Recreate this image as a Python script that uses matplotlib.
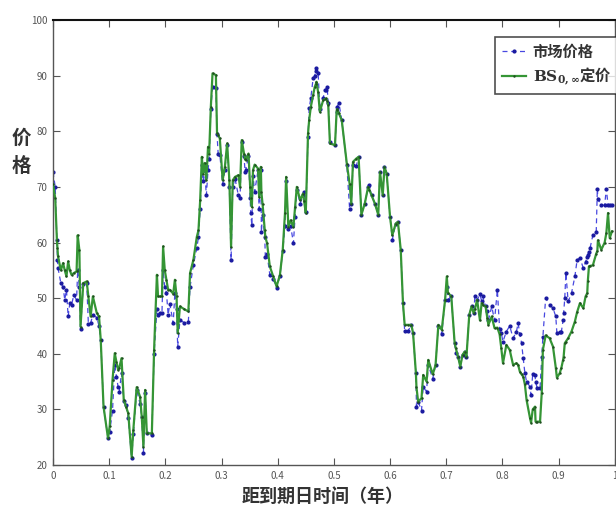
import matplotlib
matplotlib.use("Agg")
import matplotlib.pyplot as plt
from matplotlib.ticker import FormatStrFormatter

plt.rcParams['font.family'] = ['Noto Sans CJK SC', 'DejaVu Sans']
plt.rcParams['mathtext.fontset'] = 'dejavuserif'

# time to maturity (years)
t = [0.000, 0.004, 0.007, 0.008, 0.009, 0.014, 0.018, 0.021, 0.024, 0.027,
     0.030, 0.033, 0.037, 0.042, 0.044, 0.047, 0.049, 0.054, 0.060, 0.063,
     0.067, 0.071, 0.078, 0.082, 0.085, 0.090, 0.098, 0.101, 0.106, 0.110,
     0.113, 0.116, 0.118, 0.122, 0.126, 0.130, 0.134, 0.140, 0.143, 0.149,
     0.155, 0.158, 0.161, 0.164, 0.167, 0.176, 0.180, 0.185, 0.187, 0.190,
     0.194, 0.196, 0.199, 0.202, 0.205, 0.208, 0.214, 0.217, 0.220, 0.222,
     0.226, 0.234, 0.241, 0.244, 0.250, 0.256, 0.259, 0.262, 0.265, 0.267,
     0.270, 0.273, 0.276, 0.278, 0.281, 0.284, 0.290, 0.292, 0.294, 0.297,
     0.302, 0.306, 0.310, 0.314, 0.317, 0.320, 0.324, 0.330, 0.333, 0.336,
     0.340, 0.342, 0.343, 0.348, 0.351, 0.352, 0.354, 0.356, 0.359, 0.365,
     0.367, 0.370, 0.371, 0.373, 0.377, 0.378, 0.381, 0.386, 0.392, 0.398,
     0.404, 0.409, 0.413, 0.415, 0.419, 0.423, 0.428, 0.431, 0.434, 0.440,
     0.445, 0.447, 0.450, 0.454, 0.456, 0.459, 0.463, 0.466, 0.468, 0.469,
     0.472, 0.475, 0.481, 0.484, 0.486, 0.488, 0.490, 0.493, 0.502, 0.505,
     0.506, 0.509, 0.514, 0.523, 0.528, 0.531, 0.534, 0.540, 0.544, 0.549,
     0.555, 0.561, 0.563, 0.567, 0.573, 0.579, 0.582, 0.587, 0.590, 0.594,
     0.600, 0.604, 0.610, 0.614, 0.619, 0.623, 0.626, 0.632, 0.638, 0.641,
     0.646, 0.647, 0.650, 0.656, 0.659, 0.665, 0.668, 0.676, 0.681, 0.686,
     0.692, 0.698, 0.701, 0.703, 0.709, 0.715, 0.717, 0.721, 0.725, 0.729,
     0.733, 0.736, 0.741, 0.745, 0.749, 0.751, 0.755, 0.760, 0.763, 0.765,
     0.770, 0.773, 0.775, 0.781, 0.786, 0.791, 0.795, 0.798, 0.801, 0.807,
     0.813, 0.819, 0.825, 0.828, 0.831, 0.834, 0.837, 0.840, 0.843, 0.849,
     0.851, 0.854, 0.858, 0.859, 0.862, 0.867, 0.870, 0.872, 0.877, 0.884,
     0.890, 0.895, 0.897, 0.902, 0.905, 0.908, 0.909, 0.911, 0.913, 0.917,
     0.923, 0.929, 0.933, 0.938, 0.944, 0.948, 0.951, 0.952, 0.954, 0.956,
     0.961, 0.967, 0.969, 0.970, 0.976, 0.982, 0.985, 0.988, 0.991, 0.995]

# BS_{0,inf} model price
bs = [70.5, 68.0, 60.4, 59.0, 57.5, 55.0, 56.3, 55.0, 53.9, 56.6,
      55.0, 54.2, 54.5, 54.8, 61.3, 58.6, 44.9, 52.7, 53.0, 50.3,
      46.7, 50.3, 47.3, 46.7, 42.5, 30.5, 24.8, 27.0, 35.3, 40.1,
      38.5, 37.1, 37.5, 39.2, 31.7, 30.5, 29.3, 21.5, 26.3, 34.0,
      32.3, 28.7, 23.3, 33.5, 25.7, 25.7, 40.7, 54.2, 50.3, 50.3,
      50.3, 59.3, 55.0, 53.3, 51.5, 51.5, 50.8, 53.3, 50.3, 43.7,
      48.5, 48.0, 47.6, 54.5, 56.9, 61.0, 62.2, 67.6, 75.4, 72.4,
      74.3, 71.2, 77.2, 76.0, 84.4, 90.4, 90.1, 79.7, 79.3, 78.7,
      71.2, 73.6, 77.8, 71.2, 59.2, 71.2, 71.8, 72.1, 70.0, 78.4,
      76.0, 75.0, 74.8, 76.0, 70.0, 68.0, 66.4, 73.0, 74.0, 73.3,
      68.2, 73.6, 69.0, 67.0, 62.2, 61.0, 59.9, 55.7, 53.9, 52.1,
      54.2, 58.7, 65.3, 71.8, 62.8, 64.0, 62.8, 66.4, 70.0, 67.6,
      68.8, 67.5, 65.3, 79.6, 82.0, 84.4, 86.5, 88.0, 88.5, 88.9,
      87.0, 83.5, 85.6, 85.8, 85.9, 85.5, 84.7, 77.8, 77.5, 83.8,
      84.0, 83.2, 82.0, 74.2, 70.6, 67.0, 74.5, 75.1, 75.4, 65.0,
      67.0, 70.0, 69.5, 68.5, 67.0, 65.0, 72.7, 68.5, 73.6, 72.4,
      64.6, 61.3, 63.4, 63.7, 58.7, 49.1, 45.2, 45.2, 45.2, 43.7,
      36.5, 34.0, 31.4, 32.0, 36.2, 35.0, 38.9, 36.3, 38.0, 45.2,
      44.3, 49.7, 53.9, 51.0, 50.3, 41.9, 41.0, 39.5, 37.7, 39.8,
      40.4, 39.5, 47.0, 48.5, 47.3, 48.0, 49.7, 46.0, 49.1, 48.8,
      48.5, 46.5, 45.2, 46.7, 44.6, 44.7, 43.5, 41.0, 38.3, 41.6,
      40.7, 38.0, 38.3, 38.0, 36.8, 36.3, 35.9, 34.5, 31.7, 28.5,
      27.6, 30.0, 30.5, 27.8, 27.8, 27.8, 33.0, 40.7, 43.3, 42.8,
      41.3, 37.5, 35.7, 36.5, 37.5, 38.9, 39.5, 41.9, 42.2, 42.8,
      44.0, 45.8, 47.5, 49.1, 48.2, 50.3, 50.9, 53.0, 55.7, 55.8,
      55.9, 58.0, 58.5, 60.4, 58.7, 60.0, 61.7, 65.3, 60.8, 62.0]

# market price
market = [72.7, 70.0, 60.5, 56.9, 55.4, 52.7, 52.0, 49.7, 51.5, 46.7,
          49.1, 48.8, 50.5, 49.7, 55.0, 52.0, 44.5, 52.5, 52.8, 45.4,
          45.5, 47.0, 46.5, 45.0, 42.5, 30.5, 24.8, 26.0, 29.8, 38.0,
          35.9, 34.0, 33.2, 36.5, 31.5, 30.8, 28.5, 21.2, 25.5, 33.5,
          31.0, 28.7, 22.2, 33.0, 25.7, 25.4, 40.0, 48.0, 47.0, 47.3,
          47.3, 55.0, 52.0, 51.0, 47.0, 49.0, 45.5, 51.0, 48.0, 41.3,
          46.0, 45.6, 45.8, 52.0, 56.0, 59.0, 61.0, 66.0, 74.0, 71.0,
          73.0, 68.5, 73.0, 75.0, 84.0, 88.0, 87.7, 79.5, 76.0, 75.8,
          70.5, 73.0, 77.5, 70.0, 56.9, 70.0, 71.5, 68.5, 68.0, 78.0,
          75.5, 72.7, 73.0, 75.5, 68.0, 65.3, 63.1, 72.0, 69.1, 73.0,
          66.0, 73.0, 61.9, 65.0, 61.0, 57.4, 58.0, 54.2, 53.5, 51.8,
          54.0, 58.5, 63.0, 71.0, 62.5, 63.0, 59.9, 64.6, 69.5, 67.0,
          68.5, 69.1, 65.5, 79.0, 84.1, 86.0, 89.5, 90.0, 91.3, 90.8,
          90.5, 84.0, 86.0, 87.4, 87.5, 88.0, 85.0, 78.0, 77.5, 83.5,
          84.4, 85.1, 82.0, 74.0, 66.1, 67.0, 74.0, 73.8, 75.4, 65.0,
          67.0, 70.0, 70.3, 68.5, 67.0, 65.0, 72.7, 68.5, 73.6, 72.4,
          64.6, 60.5, 63.4, 63.7, 58.7, 49.1, 44.1, 44.1, 45.2, 43.7,
          36.5, 30.5, 31.4, 29.8, 34.0, 33.2, 38.0, 35.5, 38.0, 45.0,
          43.5, 49.7, 52.0, 49.7, 50.3, 41.9, 40.1, 39.5, 37.7, 39.8,
          40.4, 39.5, 47.0, 48.5, 47.3, 50.3, 49.7, 50.7, 49.5, 50.3,
          48.5, 47.6, 46.0, 48.5, 46.0, 51.5, 44.5, 43.7, 42.2, 44.0,
          45.0, 42.8, 44.0, 45.5, 43.5, 42.0, 39.2, 36.5, 35.0, 34.1,
          32.6, 36.4, 36.2, 35.0, 33.8, 33.9, 39.5, 43.0, 50.0, 48.8,
          48.2, 46.7, 43.7, 44.0, 44.0, 46.0, 47.3, 50.0, 54.5, 49.4,
          50.9, 53.9, 56.9, 57.2, 55.4, 56.5, 57.4, 57.8, 58.3, 59.0,
          61.3, 61.9, 69.7, 67.8, 66.7, 66.7, 69.7, 66.7, 66.7, 66.7]

xticks = [0, 0.1, 0.2, 0.3, 0.4, 0.5, 0.6, 0.7, 0.8, 0.9, 1]
yticks = [20, 30, 40, 50, 60, 70, 80, 90, 100]

fig = plt.figure(figsize=(6.16, 5.09), dpi=100)
ax = fig.add_axes([0.086, 0.0864, 0.912, 0.8743])

ax.plot(t, market, color='#4848e0', linestyle=(0, (4, 3)), linewidth=0.9,
        marker='o', markersize=2.0, markerfacecolor='#1a1aa0',
        markeredgecolor='#1a1aa0', label='市场价格', zorder=2)
ax.plot(t, bs, color='#359535', linewidth=1.6, marker='.', markersize=1.5,
        markerfacecolor='#1f4f1f', markeredgecolor='#1f4f1f',
        label=r'$\mathbf{BS}_{\mathbf{0,\infty}}$定价', zorder=3)

ax.set_xlim(0, 1)
ax.set_ylim(20, 100)
ax.set_xticks(xticks)
ax.set_yticks(yticks)
ax.xaxis.set_major_formatter(FormatStrFormatter('%g'))
ax.tick_params(direction='in', top=True, right=True, length=5,
               labelsize=7, labelcolor='#555555', color='#555555', pad=4)
for s in ax.spines.values():
    s.set_color('#555555')
    s.set_linewidth(1.0)
ax.spines['top'].set_color('#111111')
ax.spines['top'].set_linewidth(1.5)

fig.text(0.034, 0.70, '价\n格', fontsize=14, fontweight='bold', color='#333333',
         ha='center', va='center', linespacing=1.6)
fig.text(0.523, 0.024, '距到期日时间（年）', fontsize=13, fontweight='bold',
         color='#333333', ha='center', va='center')

leg = ax.legend(loc='upper right', bbox_to_anchor=(1.006, 0.962), fontsize=11,
                frameon=True, fancybox=False, edgecolor='#222222',
                handlelength=1.6, borderpad=0.45, labelspacing=0.4,
                handletextpad=0.4, borderaxespad=0.0)
leg.get_frame().set_linewidth(1.2)
for txt in leg.get_texts():
    txt.set_fontweight('bold')
    txt.set_color('#333333')

fig.savefig('out.png', dpi=100)
